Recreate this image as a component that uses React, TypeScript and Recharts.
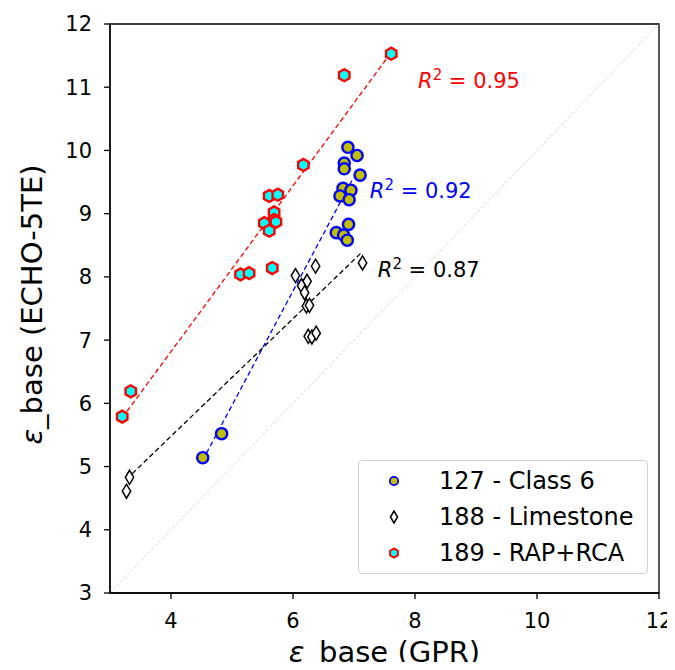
import {
  Legend,
  ReferenceArea,
  ReferenceDot,
  ReferenceLine,
  Scatter,
  ScatterChart,
  XAxis,
  YAxis,
} from "recharts";

// 127 - Class 6
const class6X = [6.9, 7.05, 6.84, 6.84, 7.1, 6.82, 6.95, 6.77, 6.92, 6.91, 6.71, 6.83, 6.89, 4.83, 4.52];
const class6Y = [10.05, 9.92, 9.8, 9.71, 9.61, 9.4, 9.37, 9.28, 9.22, 8.83, 8.7, 8.66, 8.58, 5.52, 5.14];

// 188 - Limestone
const limeX = [7.14, 6.37, 6.04, 6.23, 6.14, 6.19, 6.22, 6.27, 6.25, 6.31, 6.38, 3.32, 3.27];
const limeY = [8.22, 8.17, 8.02, 7.93, 7.86, 7.75, 7.54, 7.55, 7.06, 7.05, 7.11, 4.83, 4.61];

// 189 - RAP+RCA
const rapX = [7.61, 6.84, 6.17, 5.61, 5.75, 5.69, 5.69, 5.72, 5.53, 5.61, 5.14, 5.28, 5.66, 3.34, 3.2];
const rapY = [11.53, 11.19, 9.77, 9.28, 9.3, 9.02, 8.9, 8.87, 8.85, 8.73, 8.04, 8.06, 8.14, 6.19, 5.79];

// fitted lines, [x0, y0, x1, y1]
const class6Fit = [4.52, 5.1, 6.98, 9.55];
const limeFit = [3.27, 4.8, 7.14, 8.4];
const rapFit = [3.2, 5.77, 7.61, 11.55];

const seriesNames = ["127 - Class 6", "188 - Limestone", "189 - RAP+RCA"];
const r2Labels = ["0.92", "0.87", "0.95"];
// where the R² text starts (data coords)
const r2X = [7.26, 7.39, 8.05];
const r2Y = [9.36, 8.11, 11.1];

const xTicks = [4, 6, 8, 10, 12];
const yTicks = [3, 4, 5, 6, 7, 8, 9, 10, 11, 12];

const font = "'DejaVu Sans', sans-serif";
const colors = ["#0000ff", "#000000", "#ff0000"];

const toPoints = (xs: number[], ys: number[]) => xs.map((x, i) => ({ x, y: ys[i] }));

const CircleMark = (props: any) => {
  const s = props.small ? 0.75 : 1;
  return <circle cx={props.cx} cy={props.cy} r={5.6 * s} fill="#bfbf00" stroke="#0000ff" strokeWidth={2.4 * s} />;
};

const DiamondMark = (props: any) => {
  const { cx, cy } = props;
  const s = props.small ? 0.85 : 1;
  return (
    <path
      d={`M${cx},${cy - 7 * s} L${cx + 4.2 * s},${cy} L${cx},${cy + 7 * s} L${cx - 4.2 * s},${cy} Z`}
      fill="#fff"
      stroke="#000"
      strokeWidth={1.5}
    />
  );
};

const HexMark = (props: any) => {
  const { cx, cy } = props;
  const r = props.small ? 4.5 : 6;
  const pts = [0, 1, 2, 3, 4, 5]
    .map((k) => {
      const a = ((90 + 60 * k) * Math.PI) / 180;
      return `${cx + r * Math.cos(a)},${cy - r * Math.sin(a)}`;
    })
    .join(" ");
  return <polygon points={pts} fill="#00ffff" stroke="#ff0000" strokeWidth={props.small ? 2 : 2.4} />;
};

const marks = [CircleMark, DiamondMark, HexMark];

const r2Text = (i: number) => (props: any) => (
  <text x={props.cx} y={props.cy} dy="0.35em" fill={colors[i]} fontSize={21} fontFamily={font}>
    <tspan fontStyle="italic">R</tspan>
    <tspan dy={-8} fontSize={15}>2</tspan>
    <tspan dy={8}> = {r2Labels[i]}</tspan>
  </text>
);

const LegendBox = () => (
  <div
    style={{
      width: 290,
      height: 114,
      boxSizing: "border-box",
      border: "1px solid #d0d0d0",
      borderRadius: 4,
      background: "rgba(255,255,255,0.8)",
      fontFamily: font,
      fontSize: 24,
      paddingTop: 2,
    }}
  >
    {seriesNames.map((name, i) => {
      const Mark = marks[i];
      return (
        <div key={name} style={{ display: "flex", alignItems: "center", height: 36 }}>
          <svg width={70} height={20} style={{ marginLeft: 0 }}>
            <Mark cx={35} cy={10} small />
          </svg>
          <span style={{ marginLeft: 10, whiteSpace: "nowrap" }}>{name}</span>
        </div>
      );
    })}
  </div>
);

const App = () => {
  const tickStyle = { fontSize: 21, fill: "#000", fontFamily: font };
  return (
    <div style={{ width: 667, height: 662, marginBottom: -8 }}>
      <ScatterChart width={667} height={662} margin={{ top: 16, right: 16, left: 0, bottom: 0 }}>
        <XAxis
          type="number"
          dataKey="x"
          domain={[3, 12]}
          ticks={xTicks}
          allowDataOverflow
          height={77}
          tick={tickStyle}
          tickSize={6}
          tickMargin={14}
          axisLine={{ stroke: "#000", strokeWidth: 1.3 }}
          tickLine={{ stroke: "#000", strokeWidth: 1.3 }}
          label={{
            content: (p: any) => {
              const vb = p.viewBox;
              return (
                <text x={vb.x + vb.width / 2} y={vb.y + 69} textAnchor="middle" fontSize={29} fontFamily={font}>
                  <tspan fontStyle="italic">ε</tspan>
                  <tspan>_base (GPR)</tspan>
                </text>
              );
            },
          }}
        />
        <YAxis
          type="number"
          dataKey="y"
          domain={[3, 12]}
          ticks={yTicks}
          allowDataOverflow
          width={102}
          tick={tickStyle}
          tickSize={6}
          tickMargin={12}
          axisLine={{ stroke: "#000", strokeWidth: 1.3 }}
          tickLine={{ stroke: "#000", strokeWidth: 1.3 }}
          label={{
            content: (p: any) => {
              const vb = p.viewBox;
              const cy = vb.y + vb.height / 2 - 4;
              return (
                <text
                  x={24}
                  y={cy}
                  dy="0.35em"
                  textAnchor="middle"
                  fontSize={29}
                  fontFamily={font}
                  transform={`rotate(-90 24 ${cy})`}
                >
                  <tspan fontStyle="italic">ε</tspan>
                  <tspan>_base (ECHO-5TE)</tspan>
                </text>
              );
            },
          }}
        />
        <ReferenceArea x1={3} x2={12} y1={3} y2={12} fill="none" stroke="#000" strokeWidth={1.3} />
        <ReferenceLine
          segment={[{ x: 3, y: 3 }, { x: 12, y: 12 }]}
          stroke="#c8c8c8"
          strokeWidth={0.8}
          strokeDasharray="3 2"
        />
        {[class6Fit, limeFit, rapFit].map((f, i) => (
          <ReferenceLine
            key={i}
            segment={[{ x: f[0], y: f[1] }, { x: f[2], y: f[3] }]}
            stroke={colors[i]}
            strokeWidth={1.3}
            strokeDasharray="5 3"
          />
        ))}
        <Scatter name={seriesNames[0]} data={toPoints(class6X, class6Y)} shape={CircleMark} isAnimationActive={false} />
        <Scatter name={seriesNames[1]} data={toPoints(limeX, limeY)} shape={DiamondMark} isAnimationActive={false} />
        <Scatter name={seriesNames[2]} data={toPoints(rapX, rapY)} shape={HexMark} isAnimationActive={false} />
        {r2Labels.map((_, i) => (
          <ReferenceDot key={i} x={r2X[i]} y={r2Y[i]} r={0} shape={r2Text(i)} />
        ))}
        <Legend
          layout="vertical"
          align="center"
          verticalAlign="middle"
          wrapperStyle={{ left: 350, top: 452, width: 290, height: 114 }}
          content={() => <LegendBox />}
        />
      </ScatterChart>
    </div>
  );
};

export default App;
